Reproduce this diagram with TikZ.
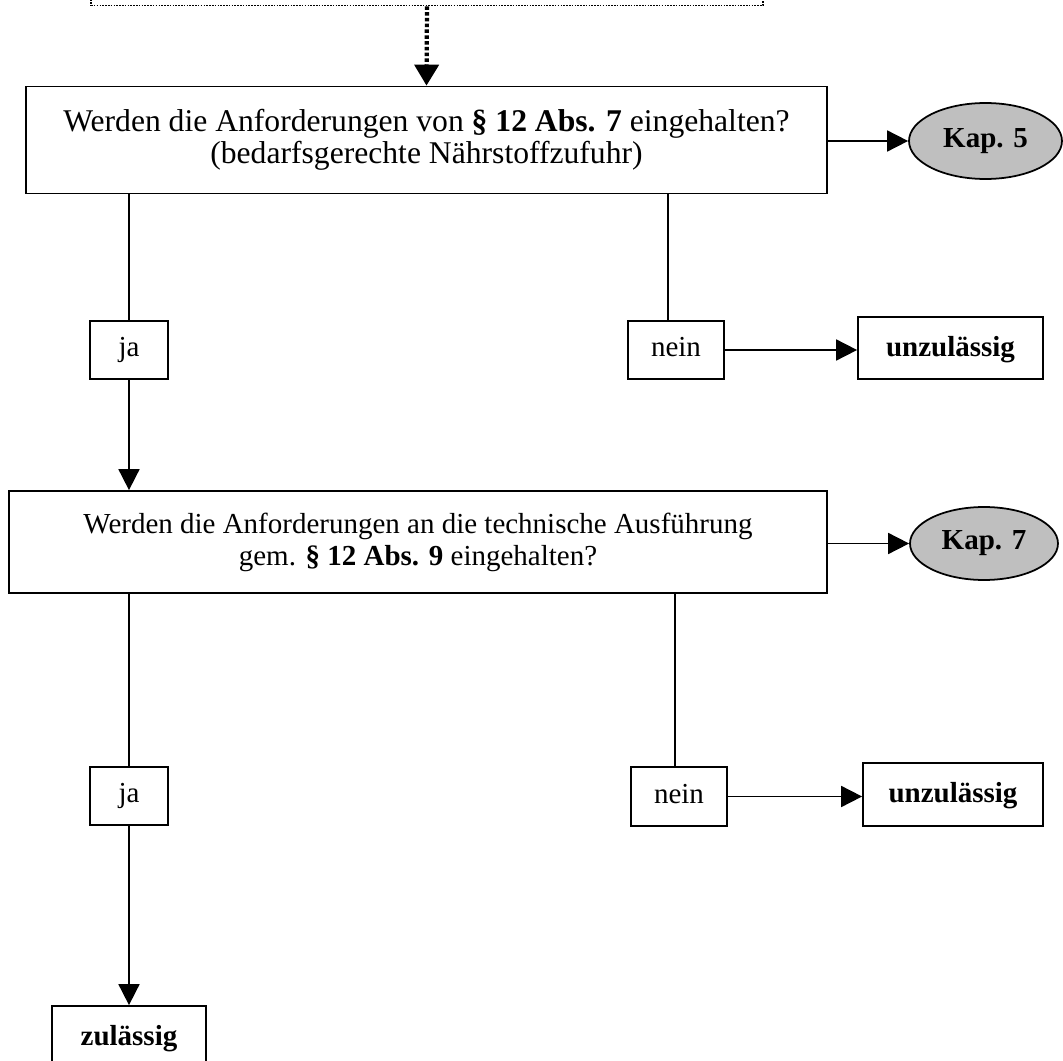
\documentclass[tikz,border=0pt]{standalone}
\usepackage{fontspec}
\setmainfont{Liberation Serif}
\usetikzlibrary{arrows.meta,shapes.geometric}
\newcommand{\fsz}{\fontsize{16.5}{18.2}\selectfont}
\newcommand{\fbig}{\fontsize{18}{18.4}\selectfont}
\tikzset{b/.style={draw,line width=1pt,align=center,inner sep=0pt},
 s/.style={b,text height=2ex,text depth=.3ex},
 bb/.style={b,font=\fsz\bfseries,text height=2.3ex,text depth=.3ex},
 k/.style={draw,line width=1pt,ellipse,fill=gray!50,inner sep=0pt,font=\fsz\bfseries,text height=1.6ex,text depth=0pt},
 dbox/.style={draw,line width=.9pt,dash pattern=on .9pt off .7pt},
 flow/.style={-{Triangle[length=4.2mm,width=4.2mm]},line width=1pt},
 dflow/.style={-{Triangle[length=4.2mm,width=4.8mm]},line width=2.4pt,dash pattern=on 2pt off 1.3pt},
 wire/.style={line width=1pt}}
\begin{document}
\begin{tikzpicture}[x=.02cm,y=-.02cm,font=\fsz]
\useasboundingbox (0,0) rectangle (1063,1061);
\clip (0,0) rectangle (1063,1061);
\node[dbox,minimum width=13.44cm,minimum height=2cm](prev) at (427,-44.5){};
\node[b,font=\fbig,minimum width=16.02cm,minimum height=2.14cm](q1) at (426.5,140){Werden die Anforderungen von \textbf{§ 12 Abs. 7} eingehalten?\\(bedarfsgerechte Nährstoffzufuhr)};
\node[k,minimum width=3.06cm,minimum height=1.52cm](k5) at (985.5,141){Kap. 5};
\node[s,minimum width=1.56cm,minimum height=1.16cm](ja1) at (129,350){ja};
\node[s,minimum width=1.92cm,minimum height=1.16cm](n1) at (676,350){nein};
\node[bb,minimum width=3.7cm,minimum height=1.24cm](u1) at (950.5,348){unzulässig};
\node[b,minimum width=16.36cm,minimum height=2.04cm](q2) at (418,542){Werden die Anforderungen an die technische Ausführung\\gem. \textbf{§ 12 Abs. 9} eingehalten?};
\node[k,minimum width=2.96cm,minimum height=1.46cm](k7) at (984,543.5){Kap. 7};
\node[s,minimum width=1.56cm,minimum height=1.16cm](ja2) at (129,796){ja};
\node[s,minimum width=1.92cm,minimum height=1.18cm](n2) at (679,796.5){nein};
\node[bb,minimum width=3.6cm,minimum height=1.26cm](u2) at (953,794.5){unzulässig};
\node[bb,minimum width=3.08cm,minimum height=1.24cm](zu) at (129,1037){zulässig};
% erste Frage
\draw[dflow](prev.south)--(q1.north);
\draw[flow](q1.east|-k5.west)--(k5.west);
\draw[wire](q1.south-|ja1.north)--(ja1.north);
\draw[wire]([xshift=-.16cm]n1.north|-q1.south)--([xshift=-.16cm]n1.north);
\draw[flow](n1.east)--(n1.east-|u1.west);
\draw[flow](ja1.south)--(ja1.south|-q2.north);
% zweite Frage
\draw[flow](q2.east|-k7.west)--(k7.west);
\draw[wire](q2.south-|ja2.north)--(ja2.north);
\draw[wire]([xshift=-.08cm]n2.north|-q2.south)--([xshift=-.08cm]n2.north);
\draw[flow](n2.east)--(n2.east-|u2.west);
\draw[flow](ja2.south)--(zu.north);
\end{tikzpicture}
\end{document}
